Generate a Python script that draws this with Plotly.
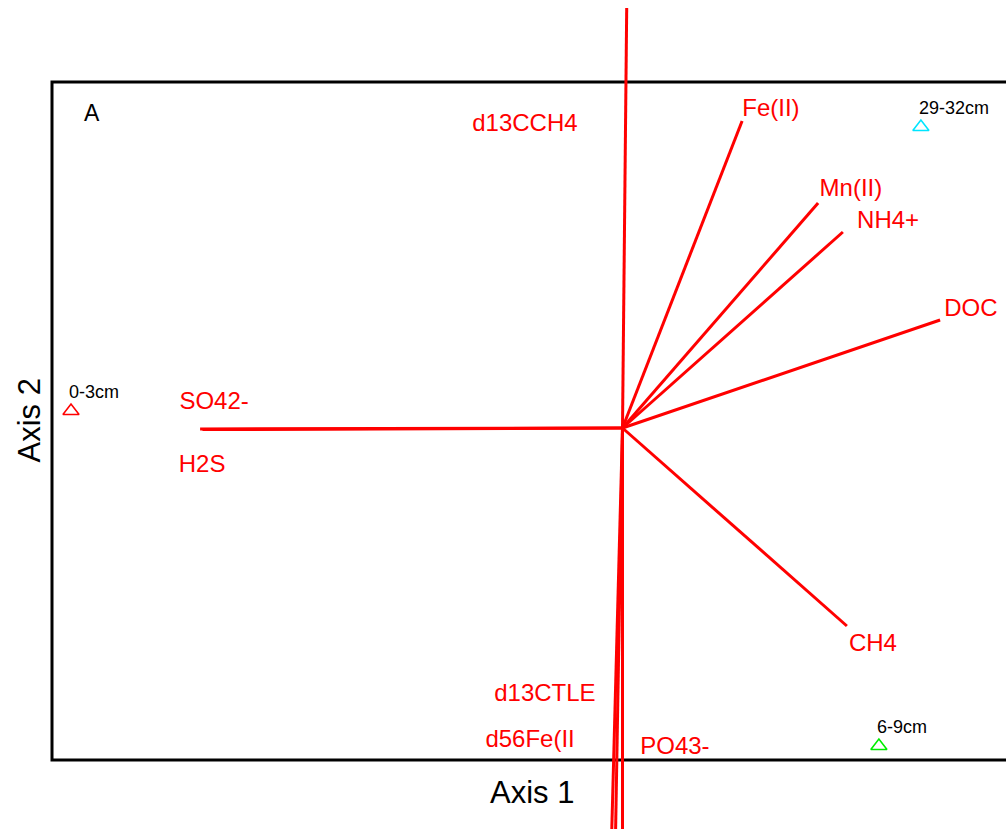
import plotly.graph_objects as go

# Biplot scores (axis 1, axis 2) for the environmental variables
variables = ["d13CCH4", "Fe(II)", "Mn(II)", "NH4+", "DOC", "SO42-", "H2S",
             "CH4", "d13CTLE", "d56Fe(II", "PO43-"]
var_ax1 = [0.0105, 0.299, 0.489, 0.551, 0.794, -1.056, -1.050,
           0.561, -0.028, -0.018, 0.000]
var_ax2 = [1.050, 0.7675, 0.5625, 0.490, 0.270, -0.0025, -0.004,
           -0.495, -1.050, -1.050, -1.050]

# Label anchor points for the variable names
label_ax1 = [-0.244, 0.371, 0.571, 0.664, 0.871, -1.021, -1.051,
             0.626, -0.194, -0.231, 0.131]
label_ax2 = [0.757, 0.795, 0.595, 0.515, 0.295, 0.062, -0.095,
             -0.542, -0.667, -0.782, -0.800]

# Sample scores (sediment depth intervals)
samples = ["0-3cm", "29-32cm", "6-9cm"]
sample_ax1 = [-1.37875, 0.746, 0.641]
sample_ax2 = [0.0425, 0.7525, -0.795]
sample_colors = ["#ff0000", "#00e5ff", "#00ee00"]

FONT = "Liberation Sans, Arial, Helvetica, sans-serif"
RED = "#ff0000"

fig = go.Figure()

# Arrows from the origin to each variable score
for x, y in zip(var_ax1, var_ax2):
    fig.add_trace(go.Scatter(
        x=[0, x], y=[0, y], mode="lines",
        line=dict(color=RED, width=3), hoverinfo="skip", showlegend=False))

fig.add_trace(go.Scatter(
    x=label_ax1, y=label_ax2, text=variables, mode="text",
    textposition="middle center",
    textfont=dict(family=FONT, size=24, color=RED),
    hoverinfo="skip", showlegend=False))

fig.add_trace(go.Scatter(
    x=sample_ax1, y=sample_ax2, mode="markers",
    marker=dict(symbol="triangle-up-open", size=14, color=sample_colors,
                line=dict(width=1.6, color=sample_colors)),
    hoverinfo="skip", showlegend=False))

annotations = []
for name, x, y in zip(samples, sample_ax1, sample_ax2):
    annotations.append(dict(
        x=x, y=y, xref="x", yref="y", text=name, showarrow=False,
        xanchor="left", yanchor="bottom", xshift=-4, yshift=7,
        font=dict(family=FONT, size=18, color="black")))

annotations += [
    dict(x=0.0915, y=0.864, xref="paper", yref="paper", text="A",
         xanchor="center", yanchor="middle",
         showarrow=False, font=dict(family=FONT, size=23, color="black")),
    dict(x=0.529, y=0.044, xref="paper", yref="paper", text="Axis 1",
         xanchor="center", yanchor="middle",
         showarrow=False, font=dict(family=FONT, size=31, color="black")),
    dict(x=0.029, y=0.493, xref="paper", yref="paper", text="Axis 2",
         xanchor="center", yanchor="middle",
         textangle=-90, showarrow=False,
         font=dict(family=FONT, size=31, color="black")),
]

fig.update_layout(
    width=1006, height=829,
    margin=dict(l=0, r=0, t=0, b=0),
    paper_bgcolor="white", plot_bgcolor="white",
    xaxis=dict(range=[-1.55625, 0.95875], visible=False, fixedrange=True),
    yaxis=dict(range=[-1.0025, 1.07], visible=False, fixedrange=True),
    shapes=[dict(type="rect", xref="x", yref="y",
                 x0=-1.42625, x1=0.98, y0=-0.83, y1=0.865,
                 line=dict(color="black", width=3), layer="below")],
    annotations=annotations,
)

fig.write_html("out.html")
